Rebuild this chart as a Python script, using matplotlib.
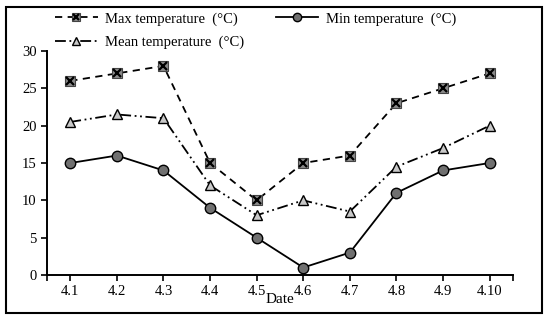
import numpy as np
import matplotlib.pyplot as plt
from matplotlib.patches import Rectangle

plt.rcParams['font.family'] = ['Liberation Serif', 'DejaVu Serif']

dates = ['4.1', '4.2', '4.3', '4.4', '4.5', '4.6', '4.7', '4.8', '4.9', '4.10']
t_max = [26, 27, 28, 15, 10, 15, 16, 23, 25, 27]
t_mean = [20.5, 21.5, 21, 12, 8, 10, 8.5, 14.5, 17, 20]
t_min = [15, 16, 14, 9, 5, 1, 3, 11, 14, 15]

x = np.arange(len(dates))

fig = plt.figure(figsize=(5.5, 3.2), dpi=100)
ax = fig.add_axes([0.0855, 0.1406, 0.847, 0.70])

# max: dashed, grey square with black x
l_max, = ax.plot(x, t_max, color='black', lw=1.3, ls=(0, (4, 3)),
                 marker='s', ms=7, mfc='#8a8a8a', mec='#444444', mew=0.8)
x_max, = ax.plot(x, t_max, ls='none', marker='x', ms=6, mec='black', mew=1.6)
# mean: dash-dot-dot, light triangle
l_mean, = ax.plot(x, t_mean, color='black', lw=1.3, ls=(0, (6, 2, 1, 2, 1, 2)),
                  marker='^', ms=7, mfc='#c8c8c8', mec='black', mew=1.0)
# min: solid, grey circle
l_min, = ax.plot(x, t_min, color='black', lw=1.3, ls='-',
                 marker='o', ms=7.5, mfc='#707070', mec='black', mew=1.0)

ax.set_xlim(-0.5, 9.5)
ax.set_ylim(0, 30)
ax.set_yticks(range(0, 31, 5))
ax.set_xticks(x)
ax.set_xticklabels(dates)
ax.set_xticks([-0.5, 9.5], minor=True)
ax.tick_params(which='both', direction='out', length=4, width=1.2, labelsize=10.5, colors='black')
ax.tick_params(axis='x', which='minor', length=4)
for s in ['top', 'right']:
    ax.spines[s].set_visible(False)
for s in ['left', 'bottom']:
    ax.spines[s].set_linewidth(1.4)
ax.set_xlabel('Date', fontsize=11, labelpad=-4)

leg = fig.legend([(l_max, x_max), l_mean, l_min],
                 ['Max temperature  (°C)', 'Mean temperature  (°C)', 'Min temperature  (°C)'],
                 loc='upper left', bbox_to_anchor=(0.09, 0.98), ncol=2, frameon=False,
                 fontsize=10.5, handlelength=2.9, columnspacing=2.2, handletextpad=0.5,
                 labelspacing=0.7, borderaxespad=0, markerscale=0.8)

fig.patches.append(Rectangle((0.011, 0.022), 0.975, 0.957, transform=fig.transFigure,
                             fill=False, ec='black', lw=1.5))

fig.savefig('out.png', dpi=100)
